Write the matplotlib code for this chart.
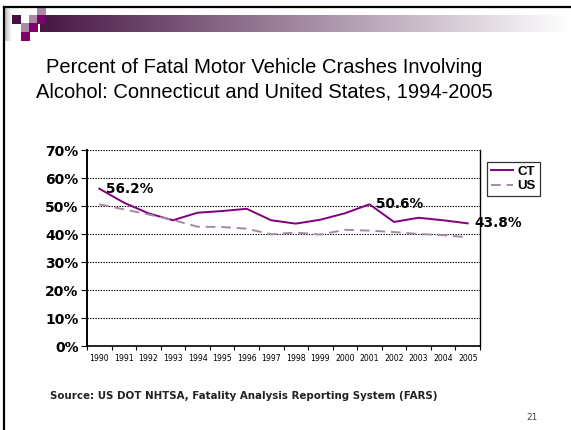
import numpy as np
import matplotlib.pyplot as plt
from matplotlib.patches import Rectangle

# data
years = [str(y) for y in range(1990, 2006)]
ct = [56.2, 51.2, 47.4, 44.9, 47.6, 48.2, 49.0, 44.9, 43.7, 45.1, 47.4, 50.6, 44.3, 45.8, 44.9, 43.8]
us = [50.6, 48.8, 47.0, 45.0, 42.6, 42.5, 41.9, 39.9, 40.5, 39.8, 41.5, 41.2, 40.7, 40.0, 39.6, 38.8]
labelled = {"CT": [0, 11, 15]}   # points carrying a value label
yticks = [0, 10, 20, 30, 40, 50, 60, 70]

title = ("Percent of Fatal Motor Vehicle Crashes Involving\n"
         "Alcohol: Connecticut and United States, 1994-2005")
source = "Source: US DOT NHTSA, Fatality Analysis Reporting System (FARS)"

W, H = 571, 430
fig = plt.figure(figsize=(W / 100, H / 100), dpi=100)

#---- slide template (pixel coords) ----
bg = fig.add_axes([0, 0, 1, 1], zorder=-1)
bg.set_xlim(0, W)
bg.set_ylim(H, 0)
bg.axis('off')
grad = np.linspace(0, 1, 256)
c0 = np.array([0.28, 0.09, 0.27])
img = c0[None, :] * (1 - grad[:, None]) + grad[:, None]
bg.imshow(img[None, :, :], extent=(40, W, 32, 15), aspect='auto')
lg = np.linspace(0.75, 1, 64)
bg.imshow(np.dstack([lg, lg, lg]), extent=(5, 12, 41, 8), aspect='auto')
dark, mauve, magenta = '#4a0f42', '#a889a6', '#80006e'
for x0, y0, c in [(37, 7, mauve), (12, 15, dark), (29, 15, mauve), (37, 15, magenta),
                  (21, 23, mauve), (29, 23, magenta), (21, 32, magenta)]:
    bg.add_patch(Rectangle((x0, y0), 8.5, 8.5, color=c, lw=0))
bg.plot([4, W], [7, 7], color='black', lw=1.6)
bg.plot([4, 4], [7, H], color='black', lw=1.6)

fig.text(264 / W, 1 - 80 / H, title, ha='center', va='center', fontsize=14.5,
         family='Liberation Sans', linespacing=1.38)
fig.text(50 / W, 1 - 396 / H, source, ha='left', va='center', fontsize=7.4,
         fontweight='bold', color='#222222')
fig.text(532 / W, 1 - 418 / H, "21", ha='center', va='center', fontsize=6.5,
         color='#444444')

#---- chart ----
ax = fig.add_axes([87 / W, 1 - 346 / H, 393 / W, 196 / H])
x = np.arange(len(years))
ax.plot(x, ct, color='#800080', lw=1.4, label='CT')
ax.plot(x, us, color='#a58aa5', lw=1.4, ls=(0, (5, 3)), label='US')

for i in labelled["CT"]:
    ax.annotate(f"{ct[i]:.1f}%", (x[i], ct[i]), xytext=(5, 0), textcoords='offset points',
                ha='left', va='center', fontsize=9.8, fontweight='bold', annotation_clip=False)

ax.set_xlim(-0.5, len(years) - 0.5)
ax.set_ylim(0, 70)
ax.set_yticks(yticks)
ax.set_yticklabels([f"{v}%" for v in yticks], fontsize=10, fontweight='bold')
for v in yticks[1:]:
    ax.axhline(v, color='black', lw=0.8, ls=(0, (1.2, 1.2)), zorder=0)

ax.set_xticks(x)
ax.set_xticklabels(years, fontsize=5.6)
ax.set_xticks(np.arange(-0.5, len(years)), minor=True)
ax.tick_params(axis='x', which='major', length=0, pad=6)
ax.tick_params(axis='x', which='minor', length=3, width=0.8, direction='out')
ax.tick_params(axis='y', length=4, width=0.8, direction='out', pad=2)

ax.spines['top'].set_visible(False)
ax.spines['left'].set_linewidth(1.4)
ax.spines['bottom'].set_linewidth(1.2)
ax.spines['right'].set_linewidth(1.0)

leg = ax.legend(loc='upper left', bbox_to_anchor=(1.018, 0.94), frameon=True,
                fancybox=False, edgecolor='black', borderpad=0.3, handlelength=1.65,
                handletextpad=0.35, labelspacing=0.15, borderaxespad=0,
                prop={'family': 'Liberation Sans', 'weight': 'bold', 'size': 9.5})
leg.get_frame().set_linewidth(0.9)

plt.savefig('out.png', dpi=100)
